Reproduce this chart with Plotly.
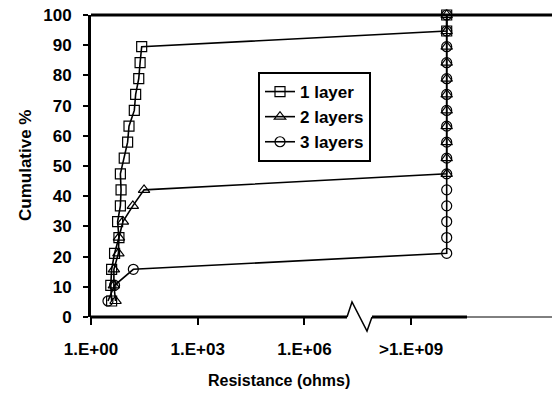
import plotly.graph_objects as go

# ---- data ----
x_1layer = [3.8, 3.6, 3.8, 4.6, 6.1, 5.6, 6.7, 7.0, 6.7, 8.6, 10.7, 11.7, 16.5, 18.0, 22.0, 24.0, 26.6, 1e10, 1e10]
y_1layer = [5.3, 10.5, 15.8, 21.1, 26.3, 31.6, 36.8, 42.1, 47.4, 52.6, 57.9, 63.2, 68.4, 73.7, 78.9, 84.2, 89.5, 94.7, 100]

x_2layers = [4.9, 4.4, 4.4, 5.9, 6.1, 7.9, 15.0, 31.0] + [1e10] * 11
y_2layers = [5.3, 10.5, 15.8, 21.1, 26.3, 31.6, 36.8, 42.1,
             47.4, 52.6, 57.9, 63.2, 68.4, 73.7, 78.9, 84.2, 89.5, 94.7, 100]

x_3layers = [3.0, 4.6, 15.5] + [1e10] * 16
y_3layers = [5.3, 10.5, 15.8,
             21.1, 26.3, 31.6, 36.8, 42.1, 47.4, 52.6, 57.9, 63.2, 68.4, 73.7, 78.9, 84.2, 89.5, 94.7, 100]

series_names = ["1 layer", "2 layers", "3 layers"]
x_tickvals = [1, 1e3, 1e6, 1e9]
x_ticktext = ["1.E+00", "1.E+03", "1.E+06", ">1.E+09"]
y_tickvals = [0, 10, 20, 30, 40, 50, 60, 70, 80, 90, 100]

FONT = "Liberation Sans, Arial, sans-serif"
W, H = 552, 393
L, R, T, B = 91, 0, 15, 76
PW, PH = W - L - R, H - T - B

def px(xp):
    return (xp - L) / PW

def py(yp):
    return (H - B - yp) / PH

fig = go.Figure()
markers = ["square-open", "triangle-up-open", "circle-open"]
for name, xs, ys, sym in zip(series_names,
                             [x_1layer, x_2layers, x_3layers],
                             [y_1layer, y_2layers, y_3layers], markers):
    fig.add_trace(go.Scatter(
        x=xs, y=ys, name=name, mode="lines+markers",
        line=dict(color="black", width=1.6),
        marker=dict(symbol=sym, size=10, color="black", line=dict(width=1.2, color="black")),
        cliponaxis=False,
    ))

shapes = []
# top border
shapes.append(dict(type="line", xref="paper", yref="paper", x0=0, x1=1, y0=1, y1=1,
                   line=dict(color="black", width=3)))
# x axis with break
y0 = py(317)
shapes.append(dict(type="line", xref="paper", yref="paper", x0=px(90), x1=px(347), y0=y0, y1=y0,
                   line=dict(color="black", width=3)))
shapes.append(dict(type="path", xref="paper", yref="paper",
                   path=f"M {px(347)},{y0} L {px(352)},{py(302)} L {px(367)},{py(331)} L {px(372)},{y0}",
                   line=dict(color="black", width=1.5)))
shapes.append(dict(type="line", xref="paper", yref="paper", x0=px(372), x1=px(467), y0=y0, y1=y0,
                   line=dict(color="black", width=3)))
shapes.append(dict(type="line", xref="paper", yref="paper", x0=px(467), x1=1, y0=y0, y1=y0,
                   line=dict(color="black", width=1)))

fig.update_layout(
    width=W, height=H,
    margin=dict(l=L, r=R, t=T, b=B),
    paper_bgcolor="white", plot_bgcolor="white",
    font=dict(family=FONT, size=16, color="black", weight="bold"),
    showlegend=True,
    legend=dict(x=px(258), y=py(72), xanchor="left", yanchor="top",
                bordercolor="black", borderwidth=2, bgcolor="white",
                font=dict(family=FONT, size=17, color="black", weight="bold"),
                tracegroupgap=0, itemwidth=30),
    shapes=shapes,
    xaxis=dict(type="log", range=[0, (W - L - R) / 35.57], showgrid=False, zeroline=False,
               showline=False, tickvals=x_tickvals, ticktext=x_ticktext,
               ticks="outside", ticklen=7, tickwidth=2, tickcolor="black",
               ticklabelstandoff=10,
               tickfont=dict(family=FONT, size=17, weight="bold")),
    yaxis=dict(range=[0, 100], showgrid=False, zeroline=False, showline=True,
               linecolor="black", linewidth=3, tickvals=y_tickvals,
               ticks="outside", ticklen=5, tickwidth=2, tickcolor="black",
               ticklabelstandoff=8,
               tickfont=dict(family=FONT, size=17, weight="bold")),
    annotations=[
        dict(text="Resistance (ohms)", xref="paper", yref="paper", x=px(279), y=py(380),
             xanchor="center", yanchor="middle", showarrow=False,
             font=dict(family=FONT, size=16, weight="bold")),
        dict(text="Cumulative %", xref="paper", yref="paper", x=px(25), y=py(166),
             xanchor="center", yanchor="middle", textangle=-90, showarrow=False,
             font=dict(family=FONT, size=17, weight="bold")),
    ],
)

fig.write_html("out.html")
